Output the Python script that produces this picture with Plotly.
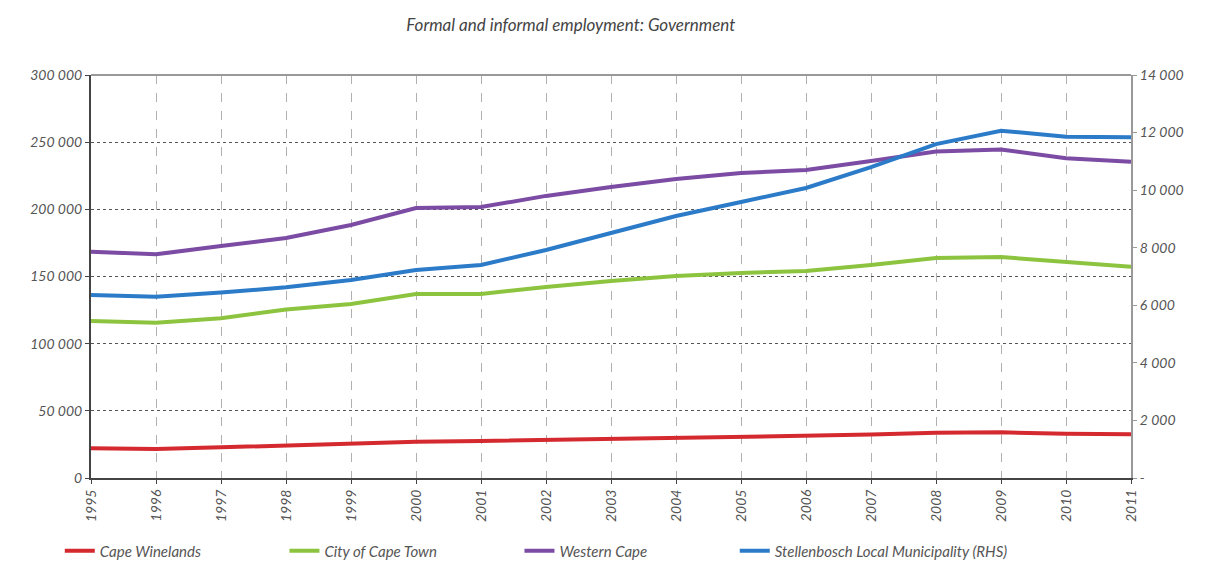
import plotly.graph_objects as go

# data
years = list(range(1995, 2012))
cape_winelands = [22100, 21600, 22800, 24300, 25800, 27000, 27500, 28300, 29300,
                  30300, 31000, 31300, 32300, 33700, 34000, 33000, 32500]
city_cape_town = [116900, 115600, 118900, 125500, 129500, 137000, 137000, 142200, 146600,
                  150400, 152600, 154100, 158600, 163700, 164500, 160700, 157300]
western_cape = [168500, 166500, 172700, 178600, 188300, 201000, 201700, 210000, 216600,
                222600, 227000, 229300, 236000, 243000, 244600, 238000, 235500]
stellenbosch = [6357, 6300, 6440, 6625, 6880, 7226, 7400, 7920, 8510,
                9100, 9590, 10075, 10800, 11600, 12065, 11857, 11835]

left_ticks = [0, 50000, 100000, 150000, 200000, 250000, 300000]
left_labels = ["0", "50 000", "100 000", "150 000", "200 000", "250 000", "300 000"]
right_ticks = [0, 2000, 4000, 6000, 8000, 10000, 12000, 14000]
right_labels = ["-", "2 000", "4 000", "6 000", "8 000", "10 000", "12 000", "14 000"]

font = dict(family="Lato, 'Open Sans', sans-serif", size=14, color="#555555")
txt = lambda s: "<i>" + s + "</i>"

fig = go.Figure()
fig.add_trace(go.Scatter(x=years, y=cape_winelands, mode="lines", name=txt("Cape Winelands"),
                         line=dict(color="#d42a2f", width=4), legend="legend"))
fig.add_trace(go.Scatter(x=years, y=city_cape_town, mode="lines", name=txt("City of Cape Town"),
                         line=dict(color="#8dc43f", width=4), legend="legend2"))
fig.add_trace(go.Scatter(x=years, y=western_cape, mode="lines", name=txt("Western Cape"),
                         line=dict(color="#7c4ba3", width=4), legend="legend3"))
fig.add_trace(go.Scatter(x=years, y=stellenbosch, mode="lines",
                         name=txt("Stellenbosch Local Municipality (RHS)"),
                         line=dict(color="#2b7bc8", width=4), yaxis="y2", legend="legend4"))


def leg(x):
    return dict(orientation="h", x=x, xanchor="left", yref="container", y=0.032,
                yanchor="middle", font=dict(size=15, color="#555555"),
                bgcolor="rgba(0,0,0,0)")


# page body adds an 8px margin, so the figure is drawn 8px smaller
fig.update_layout(
    width=1200, height=561,
    margin=dict(l=83, r=77, t=67, b=91),
    paper_bgcolor="white", plot_bgcolor="white",
    font=font,
    showlegend=True,
    title=dict(text=txt("Formal and informal employment: Government"),
               x=0.469, xanchor="center", y=1 - 17 / 561, yanchor="middle",
               font=dict(size=17, color="#444444")),
    xaxis=dict(range=[1995, 2011], tickvals=years, ticktext=[txt(str(y)) for y in years],
               tickangle=-90, showgrid=True, gridcolor="#b0b0b0", griddash="dash", gridwidth=1,
               showline=True, linecolor="#444444", linewidth=2,
               ticks="outside", ticklen=4, tickcolor="#444444", zeroline=False),
    yaxis=dict(range=[0, 300000], tickvals=left_ticks, ticktext=[txt(s) for s in left_labels],
               showgrid=True, gridcolor="#555555", griddash="dot", gridwidth=1,
               showline=True, linecolor="#444444", linewidth=2,
               ticks="outside", ticklen=4, tickcolor="#444444", zeroline=False),
    yaxis2=dict(range=[0, 14000], tickvals=right_ticks, ticktext=[txt(s) for s in right_labels],
                overlaying="y", side="right", showgrid=False, zeroline=False,
                showline=True, linecolor="#999999", linewidth=2,
                ticks="outside", ticklen=4, tickcolor="#999999"),
    legend=leg(-0.030),
    legend2=leg(0.186),
    legend3=leg(0.412),
    legend4=leg(0.619),
    shapes=[dict(type="line", xref="paper", yref="paper", x0=0, x1=1, y0=1, y1=1,
                 line=dict(color="#999999", width=2))],
)

fig.write_html("out.html")
